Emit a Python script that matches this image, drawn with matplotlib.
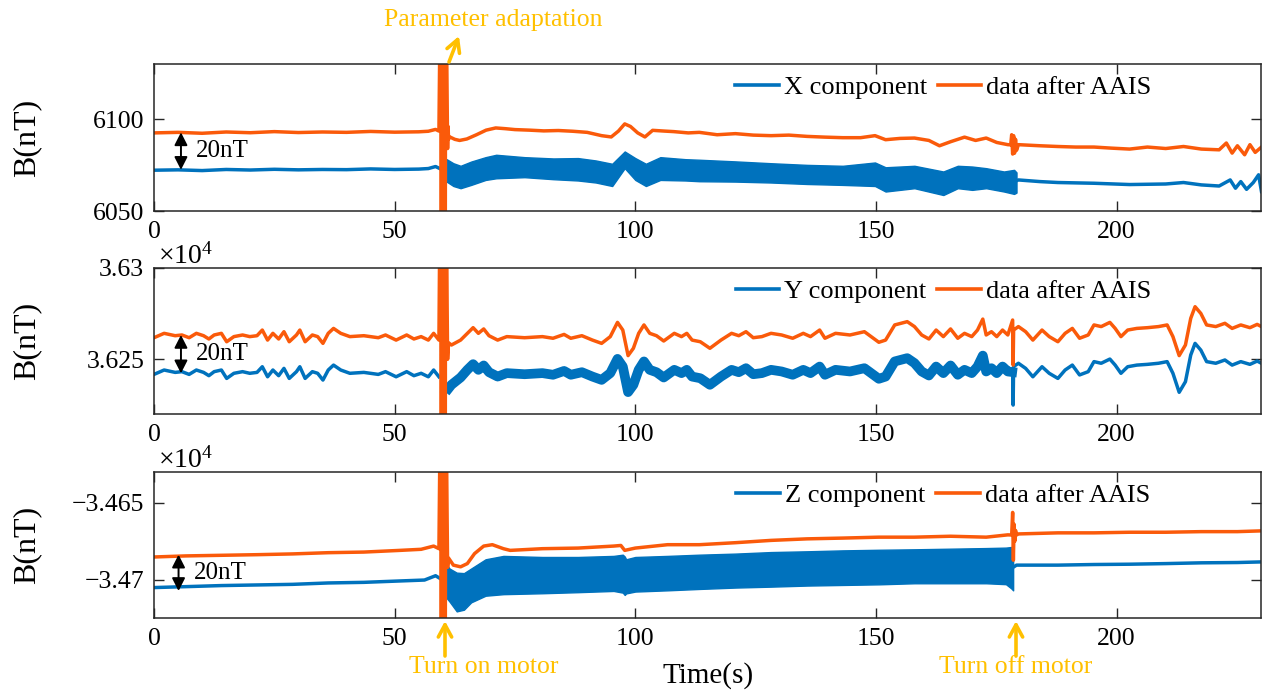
import numpy as np
import matplotlib
matplotlib.use('Agg')
import matplotlib.pyplot as plt
from matplotlib.lines import Line2D

plt.rcParams['font.family'] = ['Liberation Serif', 'DejaVu Serif']
plt.rcParams['mathtext.fontset'] = 'custom'
plt.rcParams['mathtext.rm'] = 'Liberation Serif'
plt.rcParams['mathtext.it'] = 'Liberation Serif:italic'
plt.rcParams['axes.unicode_minus'] = True

BLUE = '#0072BD'
ORANGE = '#FA5A0A'
GOLD = '#FFC000'

# ---------------- common ----------------
x_lim = [0, 230]
x_ticks = [0, 50, 100, 150, 200]
legend_labels = [['X component', 'data after AAIS'],
                 ['Y component', 'data after AAIS'],
                 ['Z component', 'data after AAIS']]

# motor start transient of AAIS output (saturated, beyond axis range)
spike_t = [59.6, 59.7, 59.8, 59.9, 60.0, 60.1, 60.2, 60.3, 60.4, 60.5, 60.6]
x_spike = [6200, 5990, 6200, 5990, 6200, 5990, 6200, 5990, 6200, 5990, 6200]
y_spike = [36400, 36150, 36400, 36150, 36400, 36150, 36400, 36150, 36400, 36150, 36400]
z_spike = [-34550, -34800, -34550, -34800, -34550, -34800, -34550, -34800, -34550, -34800, -34550]

# ---------------- X component ----------------
x_ylim = [6050, 6130]
x_yticks = [6050, 6100]
x_yticklabels = ['6050', '6100']

x_or_t = [0, 5, 10, 15, 20, 25, 30, 35, 40, 45, 50, 55, 57, 58.5, 59.2,
          60.9, 61.0, 61.1, 61.2,
          61.3, 62.5, 63.5, 65, 67, 69, 71, 73, 75, 78, 81, 84, 87, 90, 93, 95, 96.5, 97.8, 99, 100.5,
          102, 103.6, 106, 108, 111,
          113.3, 117, 120.8, 124.5, 128.2, 131.9, 135.7, 139.4, 143.1, 146.8, 149.8, 152.0, 155.0,
          158.0, 161.0, 163.2, 165.5, 168.4, 170.7, 172.9, 175.1, 177.4,
          178.0, 178.2, 178.4, 178.6, 178.8, 179.0, 179.2,
          179.6, 184.1, 187.8, 191.5, 195.3, 199.0, 202.7, 206.4, 210.2, 213.9, 217.6, 221.3, 222.8,
          224.0, 225.1, 226.6, 227.7, 228.8, 230.1]
x_or_v = [6092.5, 6092.8, 6092.3, 6093.0, 6092.6, 6093.2, 6092.7, 6093.0, 6092.8, 6093.3, 6092.9,
          6093.1, 6093.4, 6094.4, 6093.5,
          6112.0, 6084.0, 6096.0, 6089.0,
          6090.5, 6089.0, 6088.4, 6089.2, 6091.5, 6094.0, 6095.2, 6094.8, 6094.3, 6094.0, 6093.6,
          6093.8, 6093.4, 6092.8, 6091.0, 6090.3, 6093.5, 6097.4, 6096.0, 6092.5, 6090.3, 6093.9,
          6093.5, 6093.2, 6092.5,
          6092.8, 6091.5, 6092.1, 6091.3, 6091.0, 6091.3, 6090.6, 6090.2, 6089.9, 6089.9, 6091.0,
          6088.8, 6089.5, 6089.7, 6088.4, 6085.5, 6087.7, 6090.2, 6088.4, 6089.7, 6087.3, 6086.1,
          6086.0, 6091.5, 6081.0, 6091.0, 6081.5, 6089.0, 6083.0,
          6086.1, 6085.5, 6085.1, 6084.8, 6084.8, 6084.2, 6083.7, 6084.8, 6084.0, 6085.1, 6083.7,
          6083.3, 6087.0, 6081.5, 6085.5, 6080.6, 6086.1, 6081.9, 6084.8]

x_bl_pre_t = [0, 5, 10, 15, 20, 25, 30, 35, 40, 45, 50, 55, 57, 58.5, 59.3]
x_bl_pre_v = [6072.2, 6072.4, 6072.0, 6072.6, 6072.3, 6072.7, 6072.4, 6072.6, 6072.5, 6072.9,
              6072.6, 6072.8, 6073.1, 6074.2, 6073.2]
x_band_t = [60.8, 62.2, 63.7, 65.9, 68.9, 71.1, 77.0, 83.0, 88.1, 91.8, 95.2, 97.8, 100.0, 102.2,
            105.2, 110.4, 113.3, 120.8, 128.2, 135.7, 143.1, 149.8, 152.0, 158.0, 164.0, 167.0,
            170.0, 172.9, 176.6, 178.7, 179.2]
x_band_hi = [6078.2, 6076.0, 6074.6, 6076.9, 6079.3, 6080.6, 6079.3, 6078.6, 6078.8, 6077.5, 6075.7,
             6082.4, 6078.8, 6075.7, 6079.3, 6078.2, 6077.9, 6077.0, 6076.0, 6075.1, 6074.6, 6076.4,
             6073.8, 6074.6, 6071.5, 6074.6, 6074.2, 6073.3, 6071.5, 6072.4, 6071.0]
x_band_lo = [6066.0, 6063.6, 6062.4, 6064.2, 6066.9, 6067.8, 6068.4, 6067.3, 6066.6, 6065.5, 6063.6,
             6073.3, 6066.9, 6063.6, 6066.9, 6066.6, 6066.2, 6066.0, 6065.5, 6064.7, 6064.2, 6063.6,
             6060.6, 6062.4, 6058.7, 6062.4, 6061.5, 6062.4, 6060.6, 6059.3, 6060.0]
x_bl_post_t = [179.2, 179.6, 184.1, 187.8, 195.3, 202.7, 210.2, 213.9, 217.6, 221.3, 223.6, 224.7,
               225.8, 227.0, 228.4, 229.5, 230.1]
x_bl_post_v = [6066.5, 6066.9, 6066.0, 6065.5, 6065.1, 6064.4, 6064.7, 6065.5, 6064.2, 6063.6,
               6066.9, 6062.4, 6066.0, 6061.8, 6065.5, 6069.7, 6060.6]

# ---------------- Y component ----------------
y_ylim = [36220, 36300]
y_yticks = [36250, 36300]
y_yticklabels = ['3.625', '3.63']

y_or_t = [0.0, 2.1, 4.4, 5.8, 7.3, 8.8, 10.3, 11.4, 12.5, 14.0, 15.1, 16.6, 18.4, 19.9, 21.4, 22.5,
          23.6, 24.7, 25.9, 27.0, 28.1, 29.6, 30.3, 31.4, 32.9, 34.0, 35.1, 36.2, 37.3, 38.8, 40.7,
          43.6, 46.6, 48.1, 50.3, 52.5, 54.0, 55.5, 57.0, 58.1, 59.2,
          60.9, 61.0, 61.2,
          61.8, 63.7, 65.1, 66.3, 67.4, 68.5, 69.6, 71.4, 73.3, 77.0, 80.7, 82.9, 85.2, 86.6, 88.9,
          91.1, 93.0, 94.8, 96.3, 97.4, 98.5, 99.6, 100.7, 101.8, 103.0, 104.4, 105.9, 108.1, 109.6,
          110.7, 111.8, 113.5, 115.5, 117.8, 120.0, 121.5, 123.0, 124.5, 126.3, 128.2, 130.4, 132.7,
          134.9, 136.4, 138.3, 139.4, 141.6, 144.6, 147.6, 150.6, 152.0, 153.9, 156.5, 158.0, 159.5,
          161.0, 162.5, 164.0, 165.5, 167.0, 168.4, 169.9, 171.1, 172.2, 172.9, 174.0, 175.1, 176.3,
          177.4,
          178.4, 178.5, 178.6,
          179.6, 181.1, 182.6, 184.5, 186.0, 187.8, 189.3, 190.8, 192.3, 194.1, 195.3, 196.8, 198.6,
          199.7, 200.9, 202.3, 204.2, 206.4, 208.7, 210.5, 211.7, 213.0, 214.3, 215.4, 216.3, 217.5,
          218.7, 220.6, 222.5, 224.0, 225.8, 227.7, 229.2, 230.1]
y_or_v = [36261.8, 36264.2, 36262.9, 36263.3, 36261.8, 36264.2, 36262.9, 36261.1, 36263.3, 36264.2,
          36259.6, 36262.4, 36263.3, 36262.4, 36262.9, 36266.0, 36260.5, 36264.2, 36261.1, 36265.1,
          36259.6, 36263.3, 36266.0, 36259.6, 36263.3, 36262.4, 36258.7, 36264.2, 36266.9, 36264.2,
          36262.4, 36262.9, 36261.8, 36263.3, 36260.5, 36263.3, 36261.1, 36262.4, 36260.5, 36264.2,
          36260.5,
          36280.0, 36250.0, 36259.0,
          36257.8, 36260.5, 36264.2, 36267.3, 36264.2, 36266.6, 36262.9, 36260.5, 36262.4, 36261.8,
          36262.4, 36261.5, 36263.6, 36261.5, 36262.9, 36260.5, 36258.7, 36262.4, 36270.2, 36266.0,
          36252.0, 36256.0, 36264.2, 36268.8, 36264.2, 36262.9, 36260.0, 36264.2, 36262.4, 36264.2,
          36260.5, 36259.6, 36256.0, 36260.5, 36264.2, 36262.9, 36265.1, 36261.8, 36262.4, 36264.2,
          36263.3, 36261.5, 36264.2, 36262.4, 36266.0, 36261.5, 36264.2, 36263.3, 36265.1, 36259.3,
          36260.5, 36268.8, 36270.6, 36267.9, 36263.3, 36261.1, 36266.0, 36262.4, 36266.6, 36261.5,
          36264.2, 36262.4, 36266.0, 36272.0, 36263.3, 36265.1, 36262.4, 36266.0, 36263.3,
          36271.5, 36246.8, 36266.0,
          36267.9, 36265.1, 36260.5, 36266.0, 36262.4, 36259.6, 36264.2, 36266.9, 36261.5, 36263.3,
          36268.8, 36267.9, 36270.2, 36266.9, 36262.4, 36266.0, 36266.9, 36267.3, 36267.9, 36268.8,
          36262.4, 36252.0, 36257.8, 36272.4, 36278.8, 36275.1, 36268.8, 36267.9, 36269.7, 36266.9,
          36268.8, 36267.3, 36269.1, 36267.9]

y_bl_pre_t = [0.0, 2.1, 4.4, 5.8, 7.3, 8.8, 10.3, 11.4, 12.5, 14.0, 15.1, 16.6, 18.4, 19.9, 21.4,
              22.5, 23.6, 24.7, 25.9, 27.0, 28.1, 29.6, 30.3, 31.4, 32.9, 34.0, 35.1, 36.2, 37.3,
              38.8, 40.7, 43.6, 46.6, 48.1, 50.3, 52.5, 54.0, 55.5, 57.0, 58.1, 59.2]
y_bl_pre_v = [36241.7, 36244.1, 36242.8, 36243.2, 36241.7, 36244.1, 36242.8, 36241.0, 36243.2,
              36244.1, 36239.5, 36242.3, 36243.2, 36242.3, 36242.8, 36245.9, 36240.4, 36244.1,
              36241.0, 36245.0, 36239.5, 36243.2, 36245.9, 36239.5, 36243.2, 36242.3, 36238.6,
              36244.1, 36246.8, 36244.1, 36242.3, 36242.8, 36241.7, 36243.2, 36240.4, 36243.2,
              36241.0, 36242.3, 36240.4, 36244.1, 36240.4]
y_bl_mot_t = [61.2, 61.8, 63.7, 65.1, 66.3, 67.4, 68.5, 69.6, 71.4, 73.3, 77.0, 80.7, 82.9, 85.2,
              86.6, 88.9, 91.1, 93.0, 94.8, 96.3, 97.4, 98.5, 99.6, 100.7, 101.8, 103.0, 104.4,
              105.9, 108.1, 109.6, 110.7, 111.8, 113.5, 115.5, 117.8, 120.0, 121.5, 123.0, 124.5,
              126.3, 128.2, 130.4, 132.7, 134.9, 136.4, 138.3, 139.4, 141.6, 144.6, 147.6, 150.6,
              152.0, 153.9, 156.5, 158.0, 159.5, 161.0, 162.5, 164.0, 165.5, 167.0, 168.4, 169.9,
              171.1, 172.2, 172.9, 174.0, 175.1, 176.3, 177.4, 178.3]
y_bl_mot_v = [36234.0, 36236.0, 36240.0, 36244.2, 36247.3, 36244.2, 36246.6, 36242.9, 36240.5,
              36242.4, 36241.8, 36242.4, 36241.5, 36243.6, 36241.5, 36242.9, 36240.5, 36238.7,
              36242.4, 36250.2, 36246.0, 36232.0, 36236.0, 36244.2, 36248.8, 36244.2, 36242.9,
              36240.0, 36244.2, 36242.4, 36244.2, 36240.5, 36239.6, 36236.0, 36240.5, 36244.2,
              36242.9, 36245.1, 36241.8, 36242.4, 36244.2, 36243.3, 36241.5, 36244.2, 36242.4,
              36246.0, 36241.5, 36244.2, 36243.3, 36245.1, 36239.3, 36240.5, 36248.8, 36250.6,
              36247.9, 36243.3, 36241.1, 36246.0, 36242.4, 36246.6, 36241.5, 36244.2, 36242.4,
              36246.0, 36252.0, 36243.3, 36245.1, 36242.4, 36246.0, 36243.3, 36243.0]
y_bl_post_t = [178.4, 178.5, 178.6, 179.6, 181.1, 182.6, 184.5, 186.0, 187.8, 189.3, 190.8, 192.3,
               194.1, 195.3, 196.8, 198.6, 199.7, 200.9, 202.3, 204.2, 206.4, 208.7, 210.5, 211.7,
               213.0, 214.3, 215.4, 216.3, 217.5, 218.7, 220.6, 222.5, 224.0, 225.8, 227.7, 229.2,
               230.1]
y_bl_post_v = [36243.0, 36224.9, 36246.0, 36247.8, 36245.0, 36240.4, 36245.9, 36242.3, 36239.5,
               36244.1, 36246.8, 36241.4, 36243.2, 36248.7, 36247.8, 36250.1, 36246.8, 36242.3,
               36245.9, 36246.8, 36247.2, 36247.8, 36248.7, 36242.3, 36231.9, 36237.7, 36252.3,
               36258.7, 36255.0, 36248.7, 36247.8, 36249.6, 36246.8, 36248.7, 36247.2, 36249.0,
               36247.8]

# ---------------- Z component ----------------
z_ylim = [-34725, -34630]
z_yticks = [-34700, -34650]
z_yticklabels = ['\u22123.47', '\u22123.465']

z_or_t = [0.0, 6.6, 14.0, 21.4, 28.8, 36.2, 43.6, 51.1, 55.5, 58.1, 59.2,
          60.9, 61.0, 61.2, 62.2, 63.7, 65.1, 66.6, 68.5, 70.3, 72.6, 74.0, 80.7, 88.1, 95.5, 97.0,
          97.8, 100.0, 106.7, 113.3, 120.8, 128.2, 135.7, 143.1, 150.6, 158.0, 165.5, 172.9, 177.4,
          178.2, 178.4, 178.55, 178.7, 178.85, 179.0, 179.2,
          179.6, 187.8, 195.3, 202.7, 210.2, 217.6, 225.1, 230.1]
z_or_v = [-34685.3, -34684.6, -34684.2, -34683.8, -34683.3, -34682.5, -34682.1, -34681.0, -34680.3,
          -34678.2, -34679.9,
          -34660.0, -34692.0, -34686.0, -34690.6, -34691.7, -34689.6, -34683.1, -34678.2, -34677.3,
          -34679.9, -34681.0, -34679.9, -34679.5, -34678.2, -34677.8, -34681.0, -34679.5, -34677.3,
          -34677.3, -34676.0, -34674.5, -34673.5, -34673.0, -34672.4, -34672.4, -34671.8, -34672.4,
          -34670.9,
          -34671.0, -34656.3, -34687.4, -34664.0, -34675.0, -34668.0, -34671.0,
          -34670.3, -34669.6, -34669.6, -34669.2, -34669.2, -34668.8, -34668.8, -34668.3]

z_bl_pre_t = [0.0, 6.6, 14.0, 21.4, 28.8, 36.2, 43.6, 51.1, 56.2, 58.5, 59.4]
z_bl_pre_v = [-34705.2, -34704.6, -34703.9, -34703.5, -34703.1, -34702.2, -34701.8, -34700.9,
              -34700.3, -34697.5, -34699.2]
z_band_t = [60.8, 61.4, 62.9, 64.4, 65.9, 68.9, 72.6, 80.7, 88.1, 95.5, 97.4, 97.8, 98.1, 100.0,
            106.7, 113.3, 120.8, 128.2, 135.7, 143.1, 150.6, 158.0, 165.5, 172.9, 177.0, 178.1, 178.5]
z_band_hi = [-34690.0, -34692.8, -34695.5, -34695.8, -34692.8, -34686.8, -34684.6, -34685.3,
             -34685.3, -34684.6, -34683.8, -34685.0, -34686.8, -34685.3, -34684.6, -34683.8,
             -34683.1, -34682.1, -34681.6, -34681.0, -34680.6, -34680.3, -34679.9, -34679.5,
             -34679.2, -34678.8, -34686.0]
z_band_lo = [-34712.0, -34714.3, -34720.7, -34719.6, -34714.8, -34710.5, -34709.5, -34708.9,
             -34708.2, -34707.4, -34708.5, -34710.0, -34709.0, -34707.8, -34707.0, -34706.1,
             -34705.2, -34704.6, -34703.9, -34703.5, -34703.1, -34702.4, -34702.4, -34702.4,
             -34703.0, -34705.7, -34707.0]
z_bl_post_t = [178.5, 179.2, 187.8, 195.3, 202.7, 210.2, 217.6, 225.1, 230.1]
z_bl_post_v = [-34692.0, -34690.6, -34690.6, -34690.2, -34690.0, -34689.6, -34689.1, -34688.9,
               -34688.5]

# 20 nT markers (arrow time, upper value, lower value)
gap_t = [5.6, 5.6, 5.1]
gap_hi = [6092.8, 36263.3, -34683.8]
gap_lo = [6072.4, 36242.3, -34707.4]

# ---------------- figure ----------------
W, H = 1263, 693
fig = plt.figure(figsize=(W / 100, H / 100), dpi=100)


def fx(px):
    return px / W


def fy(py):
    return 1 - py / H


L, R = 154, 1261
panel_px = [(64, 211), (268, 414), (472, 618)]
AX_COL = '#262626'
TICK_FS = 18.5
LW = 2.5


def merged(t1, v1, t2, v2):
    t = np.concatenate([np.asarray(t1, float), np.asarray(t2, float)])
    v = np.concatenate([np.asarray(v1, float), np.asarray(v2, float)])
    o = np.argsort(t, kind='stable')
    return t[o], v[o]


axes = []
for (top, bot) in panel_px:
    ax = fig.add_axes([fx(L), fy(bot), (R - L) / W, (bot - top) / H])
    ax.set_xlim(x_lim)
    ax.set_xticks(x_ticks)
    ax.set_xticklabels([str(v) for v in x_ticks])
    ax.tick_params(direction='in', length=7, width=1.0, top=True, right=True,
                   labelsize=TICK_FS, pad=7, color=AX_COL, labelcolor='black')
    for s in ax.spines.values():
        s.set_color(AX_COL)
        s.set_linewidth(1.1)
    axes.append(ax)

axX, axY, axZ = axes

# X panel
axX.plot(x_bl_pre_t, x_bl_pre_v, color=BLUE, lw=LW)
axX.fill_between(x_band_t, x_band_lo, x_band_hi, color=BLUE, lw=1.0)
axX.plot(x_bl_post_t, x_bl_post_v, color=BLUE, lw=LW)
t, v = merged(x_or_t, x_or_v, spike_t, x_spike)
axX.plot(t, v, color=ORANGE, lw=LW)
axX.set_ylim(x_ylim)
axX.set_yticks(x_yticks)
axX.set_yticklabels(x_yticklabels)

# Y panel
axY.plot(y_bl_pre_t, y_bl_pre_v, color=BLUE, lw=LW)
axY.plot(y_bl_mot_t, y_bl_mot_v, color=BLUE, lw=7.0, solid_joinstyle='round')
axY.plot(y_bl_post_t, y_bl_post_v, color=BLUE, lw=LW)
t, v = merged(y_or_t, y_or_v, spike_t, y_spike)
axY.plot(t, v, color=ORANGE, lw=LW)
axY.set_ylim(y_ylim)
axY.set_yticks(y_yticks)
axY.set_yticklabels(y_yticklabels)

# Z panel
axZ.plot(z_bl_pre_t, z_bl_pre_v, color=BLUE, lw=LW)
axZ.fill_between(z_band_t, z_band_lo, z_band_hi, color=BLUE, lw=1.0)
axZ.plot(z_bl_post_t, z_bl_post_v, color=BLUE, lw=LW)
t, v = merged(z_or_t, z_or_v, spike_t, z_spike)
axZ.plot(t, v, color=ORANGE, lw=LW)
axZ.set_ylim(z_ylim)
axZ.set_yticks(z_yticks)
axZ.set_yticklabels(z_yticklabels)

# legends, 20nT markers
for i, ax in enumerate(axes):
    handles = [Line2D([], [], color=BLUE, lw=2.6), Line2D([], [], color=ORANGE, lw=2.6)]
    ax.legend(handles, legend_labels[i], loc='center', bbox_to_anchor=(0.713, 0.84), ncol=2,
              frameon=False, fontsize=19, handlelength=1.65, handletextpad=0.2,
              columnspacing=0.4, borderpad=0, borderaxespad=0)
    ax.annotate('', xy=(gap_t[i], gap_lo[i]), xytext=(gap_t[i], gap_hi[i]),
                arrowprops=dict(arrowstyle='<|-|>,head_length=0.55,head_width=0.28',
                                color='black', lw=1.4, shrinkA=0, shrinkB=0, mutation_scale=14))
    ax.text(gap_t[i] + 3.2, (gap_hi[i] + gap_lo[i]) / 2, '20nT', fontsize=18,
            ha='left', va='center')
    fig.text(fx(27), (ax.get_position().y0 + ax.get_position().y1) / 2, 'B(nT)',
             rotation=90, ha='center', va='center', fontsize=23)

for ax in (axY, axZ):
    ax.text(0.004, 1.03, r'$\times 10^{4}$', transform=ax.transAxes, ha='left',
            va='baseline', fontsize=20)

fig.text(fx(708), fy(676), 'Time(s)', ha='center', va='center', fontsize=21)

# annotations
fig.text(fx(493), fy(20), 'Parameter adaptation', ha='center', va='center',
         fontsize=18.5, color=GOLD)
arrow_kw = dict(arrowstyle='->,head_length=0.55,head_width=0.3', color=GOLD, lw=2.6,
                shrinkA=0, shrinkB=0, mutation_scale=16)
fig.add_artist(matplotlib.patches.FancyArrowPatch((fx(449), fy(62)), (fx(459), fy(36)),
                                                  transform=fig.transFigure, **arrow_kw))
fig.add_artist(matplotlib.patches.FancyArrowPatch((fx(445), fy(656)), (fx(445), fy(621)),
                                                  transform=fig.transFigure, **arrow_kw))
fig.add_artist(matplotlib.patches.FancyArrowPatch((fx(1016), fy(656)), (fx(1016), fy(621)),
                                                  transform=fig.transFigure, **arrow_kw))
fig.text(fx(484), fy(667), 'Turn on motor', ha='center', va='center', fontsize=18.5, color=GOLD)
fig.text(fx(1016), fy(667), 'Turn off motor', ha='center', va='center', fontsize=18.5,
         color=GOLD)

fig.savefig('out.png', dpi=100)
